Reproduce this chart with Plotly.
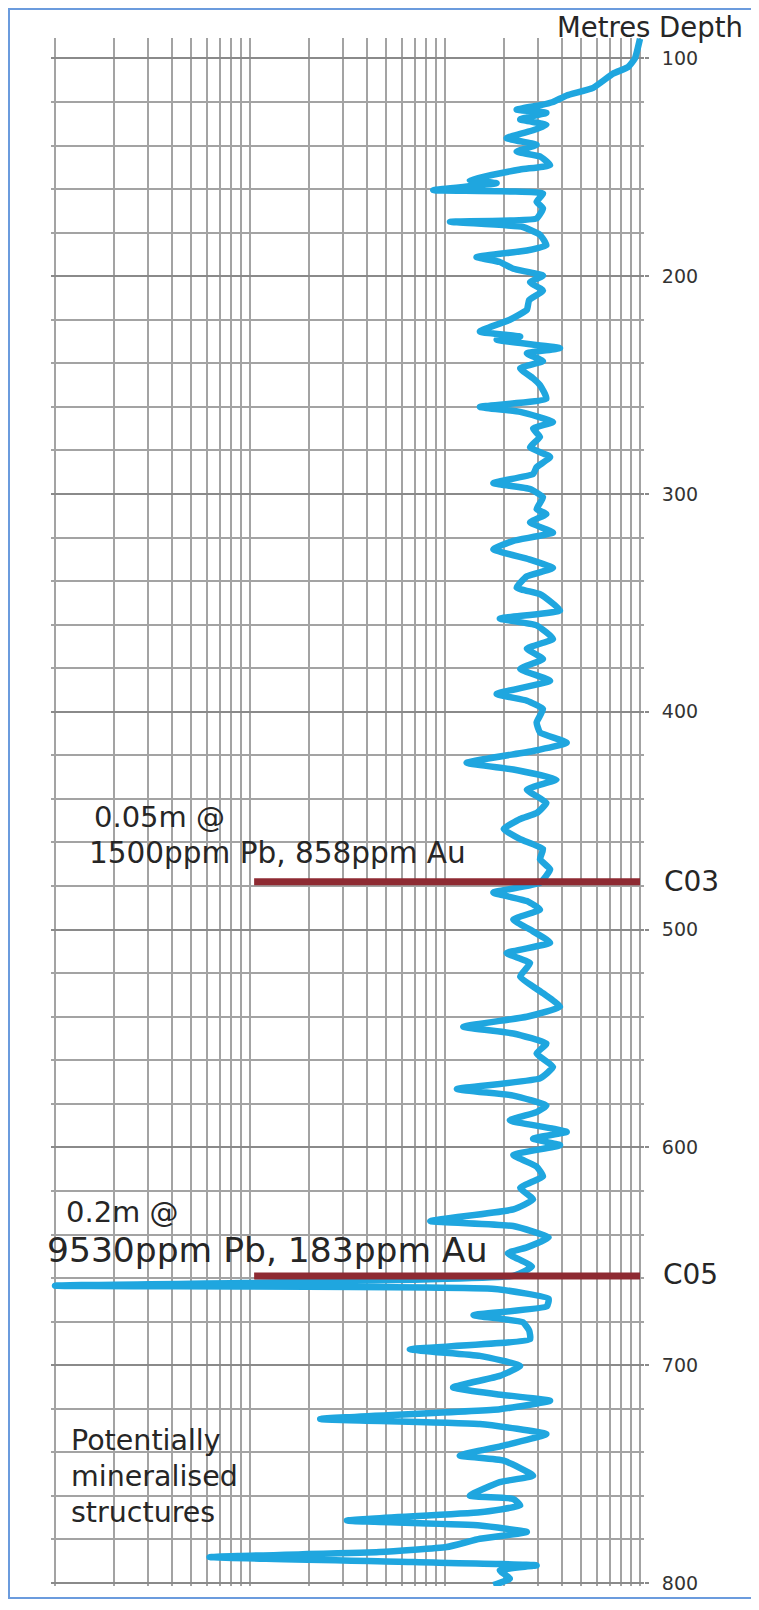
import plotly.graph_objects as go

# ---- data: blue log trace (depth in metres, value on log scale) ----
depth = [91, 100, 104, 107, 113.5, 117, 120, 121.5, 123.5, 125, 128, 130.5, 133, 136.6, 139.7,
         142.8, 145, 149, 151, 155.8, 157.3, 160.5, 162, 165.8, 168.8, 173.5, 175, 177.4, 181,
         185.8, 188.2, 191.2, 193.5, 196.6, 199.7, 202.8, 206.6, 211, 215.4, 220, 225.4, 227.7,
         229.2, 233, 235.4, 239, 242.3, 246.9, 250, 256.2, 260, 262.3, 266.9, 270, 273.8, 278.5,
         283, 287.7, 290.8, 295, 297.7, 301.5, 306.9, 309.2, 313, 317.7, 321.5, 325.4, 330,
         334, 337.8, 343, 346, 353.4, 357.2, 360.3, 366.5, 371, 375.7, 380.3, 385.7, 391.8, 394.9,
         398.8, 404.9, 409.5, 414.2, 418, 423.4, 426.5, 431.1, 435.7, 441.8, 446.5, 449.2, 453.8,
         458.5, 463, 467.7, 472.3, 478.5, 483, 486.9, 490.8, 495.4, 500, 506, 510.8, 515.4, 521.5,
         529.2, 535.4, 540, 544.6, 547.7, 552.3, 556.9, 563, 568.3, 573.2, 576.2, 580.8, 583.8,
         587.6, 591.4, 592.9, 596, 599, 603.5, 608.8, 613.3, 618.6, 623.9, 628.5, 633.8, 636.1,
         641.4, 645.9, 648.6, 654.7, 659, 663.5, 665, 669.5, 673, 677, 680.3, 684, 688.1, 692.7,
         695.7, 700.3, 704.9, 710.2, 713.3, 716.3, 720.2, 724.7, 727, 731.6, 736.9, 741.5, 743.8,
         750.7, 753.7, 759.9, 761.4, 764.4, 767.5, 771.3, 773.6, 776.6, 779.7, 783.5, 785.8,
         788.1, 790.4, 791.9, 794.2, 798, 801]
value = [1000, 942, 868, 727, 575, 421, 358, 307, 233, 331, 243, 331, 283, 207, 295,
         233, 307, 346, 243, 134, 184, 87, 318, 295, 318, 295, 106, 251, 307,
         331, 263, 145, 191, 224, 318, 273, 318, 270, 263, 215, 151, 243,
         184, 389, 263, 318, 243, 283, 307, 331, 151, 243, 358, 283, 307, 273,
         346, 295, 283, 177, 273, 318, 295, 331, 273, 358, 224, 177, 270,
         358, 263, 233, 307, 389, 191, 295, 358, 263, 318, 243, 346, 184, 263,
         318, 295, 307, 421, 283, 129, 224, 373, 263, 331, 295, 243, 200,
         243, 318, 307, 346, 307, 177, 263, 307, 224, 273, 346, 207, 273, 243,
         318, 389, 263, 124, 224, 331, 295, 358, 307, 115, 224, 331, 295,
         215, 358, 421, 283, 389, 224, 295, 318, 243, 283, 224, 84, 224,
         340, 263, 210, 279, 224, 1.0, 180, 340, 333, 140, 251, 270, 273, 66,
         151, 243, 191, 110, 184, 346, 191, 22.9, 151, 331, 200, 119, 200,
         283, 191, 134, 224, 243, 151, 31.4, 151, 263, 151, 102, 46,
         6.2, 68.6, 295, 191, 215, 177]

# ---- data: sampled intervals (red bars) ----
marker_names = ["C03", "C05"]
marker_depths = [478, 659]
marker_from = [10.5, 10.5]
marker_to = [1000, 1000]

# ---- axis ticks ----
depth_ticks = [100, 200, 300, 400, 500, 600, 700, 800]

# page offset: browser body margin of 8 px
OFF = 8
W, H = 759 - OFF, 1610 - OFF
# plot area in page pixels
PX0, PX1, PY0, PY1 = 51, 644, 38, 1586
PW, PH = PX1 - PX0, PY1 - PY0


def px(x):
    return (x - PX0) / PW


def py(y):
    return (PY1 - y) / PH


FONT = "DejaVu Sans"
TXT = "#262626"

fig = go.Figure()
fig.add_trace(go.Scatter(x=value, y=depth, mode="lines",
                         line=dict(color="#1FA6DF", width=6.5, shape="spline", smoothing=0.4),
                         hoverinfo="skip", showlegend=False))
for name, d, a, b in zip(marker_names, marker_depths, marker_from, marker_to):
    fig.add_trace(go.Scatter(x=[a, b], y=[d, d], mode="lines",
                             line=dict(color="#8E2A32", width=7),
                             hoverinfo="skip", showlegend=False))

annots = [
    dict(text="Metres Depth", x=px(555), y=py(27), size=27.5),
    dict(text="C03", x=px(662), y=py(882), size=28),
    dict(text="C05", x=px(661), y=py(1274), size=28),
    dict(text="0.05m @", x=px(92), y=py(817), size=29),
    dict(text="1500ppm Pb, 858ppm Au", x=px(87), y=py(853), size=29.5),
    dict(text="0.2m @", x=px(64), y=py(1212), size=29),
    dict(text="9530ppm Pb, 183ppm Au", x=px(45), y=py(1250), size=34.5),
    dict(text="Potentially", x=px(69), y=py(1440), size=28.5),
    dict(text="mineralised", x=px(69), y=py(1476), size=28.5),
    dict(text="structures", x=px(69), y=py(1512), size=28.5),
]
for a in annots:
    fig.add_annotation(text=a["text"], x=a["x"], y=a["y"], xref="paper", yref="paper",
                       xanchor="left", yanchor="middle", showarrow=False,
                       font=dict(family=FONT, size=a["size"], color=TXT))

fig.add_shape(type="rect", xref="paper", yref="paper",
              x0=px(9), x1=px(775), y0=py(1598), y1=py(9),
              line=dict(color="#6B9BDD", width=2), layer="below")

fig.update_layout(
    width=W, height=H,
    margin=dict(l=PX0 - OFF, r=759 - PX1, t=PY0 - OFF, b=1610 - PY1),
    paper_bgcolor="white", plot_bgcolor="white",
    xaxis=dict(type="log", range=[-0.0205, 3.0205], dtick="D1",
               showgrid=True, gridcolor="#a3a3a3", gridwidth=2,
               showticklabels=False, ticks="", zeroline=False, showline=False),
    yaxis=dict(range=[801.38, 90.63], side="right", tickvals=depth_ticks,
               showgrid=True, gridcolor="#8a8a8a", gridwidth=2,
               ticks="outside", ticklen=4, tickwidth=2, tickcolor="#8a8a8a",
               ticklabelstandoff=9,
               tickfont=dict(family=FONT, size=19, color="#333333"),
               minor=dict(dtick=20, tick0=100, showgrid=True,
                          gridcolor="#a3a3a3", gridwidth=2),
               zeroline=False, showline=False),
)

fig.write_html("out.html")
